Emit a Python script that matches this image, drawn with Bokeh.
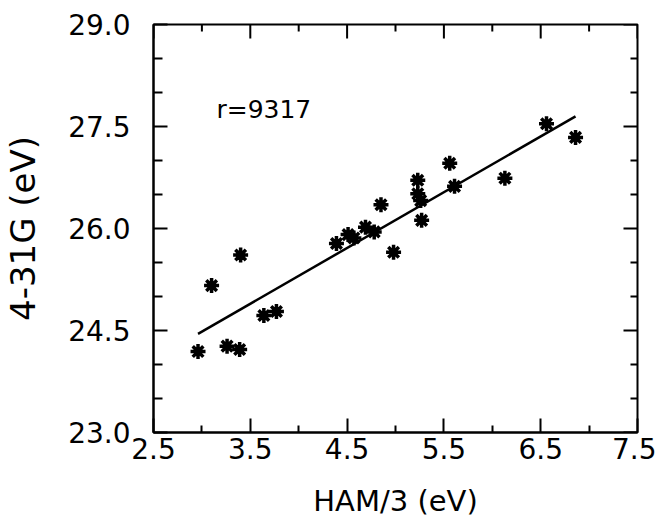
import math
from bokeh.plotting import figure
from bokeh.models import FixedTicker, Range1d
from bokeh.embed import file_html
from bokeh.resources import INLINE
from bokeh.core.properties import value

# data
ham3 = [2.96, 3.10, 3.26, 3.39, 3.40, 3.64, 3.77, 4.39, 4.51, 4.57, 4.69, 4.78,
        4.85, 4.98, 5.23, 5.23, 5.26, 5.27, 5.56, 5.61, 6.13, 6.56, 6.86]
g431 = [24.19, 25.16, 24.27, 24.22, 25.61, 24.72, 24.78, 25.78, 25.91, 25.86, 26.02, 25.95,
        26.35, 25.65, 26.71, 26.51, 26.41, 26.12, 26.96, 26.62, 26.74, 27.54, 27.34]
fit_x = [2.96, 6.86]
fit_y = [24.45, 27.65]
x_major = [2.5, 3.5, 4.5, 5.5, 6.5, 7.5]
x_minor = [3.0, 4.0, 5.0, 6.0, 7.0]
y_major = [23.0, 24.5, 26.0, 27.5, 29.0]
y_minor = [23.5, 24.0, 25.0, 25.5, 26.5, 27.0, 28.0, 28.5]
annot_text = ["r=9317"]
annot_x = [3.15]
annot_y = [27.54]

FONT = "DejaVu Sans"
x_lo, x_hi = x_major[0], x_major[-1]
y_lo, y_hi = y_major[0], y_major[-1]

p = figure(width=656, height=522, output_backend="svg", toolbar_location=None,
           x_range=Range1d(x_lo, x_hi), y_range=Range1d(y_lo, y_hi),
           min_border_left=152, min_border_right=19, min_border_top=24, min_border_bottom=90)
p.grid.visible = False
p.outline_line_color = "black"
p.outline_line_width = 2
p.background_fill_color = "white"
p.border_fill_color = "white"

xt = FixedTicker(ticks=x_major, minor_ticks=x_minor)
yt = FixedTicker(ticks=y_major, minor_ticks=y_minor)

def style(ax):
    ax.axis_line_color = "black"
    ax.axis_line_width = 2
    ax.major_tick_in = 14
    ax.major_tick_out = 0
    ax.minor_tick_in = 7
    ax.minor_tick_out = 0
    ax.major_tick_line_width = 2
    ax.minor_tick_line_width = 2
    ax.major_tick_line_color = "black"
    ax.minor_tick_line_color = "black"
    ax.major_label_text_font = FONT
    ax.major_label_text_font_size = "28px"
    ax.major_label_text_color = "black"
    ax.axis_label_text_font = FONT
    ax.axis_label_text_font_style = "normal"
    ax.axis_label_text_color = "black"

xa = p.xaxis[0]
xa.ticker = xt
style(xa)
xa.major_label_overrides = {v: f"{v:.1f}" for v in x_major}
xa.major_label_standoff = 5
xa.axis_label = "HAM/3 (eV)"
xa.axis_label_text_font_size = "29px"
xa.axis_label_standoff = 22

ya = p.yaxis[0]
ya.ticker = yt
style(ya)
ya.major_label_overrides = {v: f"{v:.1f}" for v in y_major}
ya.major_label_standoff = 23
ya.axis_label = "4-31G (eV)"
ya.axis_label_text_font_size = "34px"
ya.axis_label_standoff = 22
ya.minor_tick_in = 9

# ticks on the top and right edges of the frame (dash markers centred on the edge, clipped by the frame)
p.scatter(x_major, [y_hi] * len(x_major), marker="dash", angle=math.pi / 2, size=28,
          line_color="black", line_width=2)
p.scatter(x_minor, [y_hi] * len(x_minor), marker="dash", angle=math.pi / 2, size=14,
          line_color="black", line_width=2)
p.scatter([x_hi] * len(y_major), y_major, marker="dash", size=28, line_color="black", line_width=2)
p.scatter([x_hi] * len(y_minor), y_minor, marker="dash", size=14, line_color="black", line_width=2)

p.line(fit_x, fit_y, line_color="black", line_width=2.5)
p.scatter(ham3, g431, marker="asterisk", size=15, line_color="black", line_width=3.5)
p.scatter(ham3, g431, marker="circle", size=8, fill_color="black", line_color="black")

p.text(annot_x, annot_y, text=annot_text, text_font=value(FONT), text_font_size="25px",
       text_color="black", text_baseline="bottom", text_align="left")

open("out.html", "w").write(file_html(p, INLINE))
